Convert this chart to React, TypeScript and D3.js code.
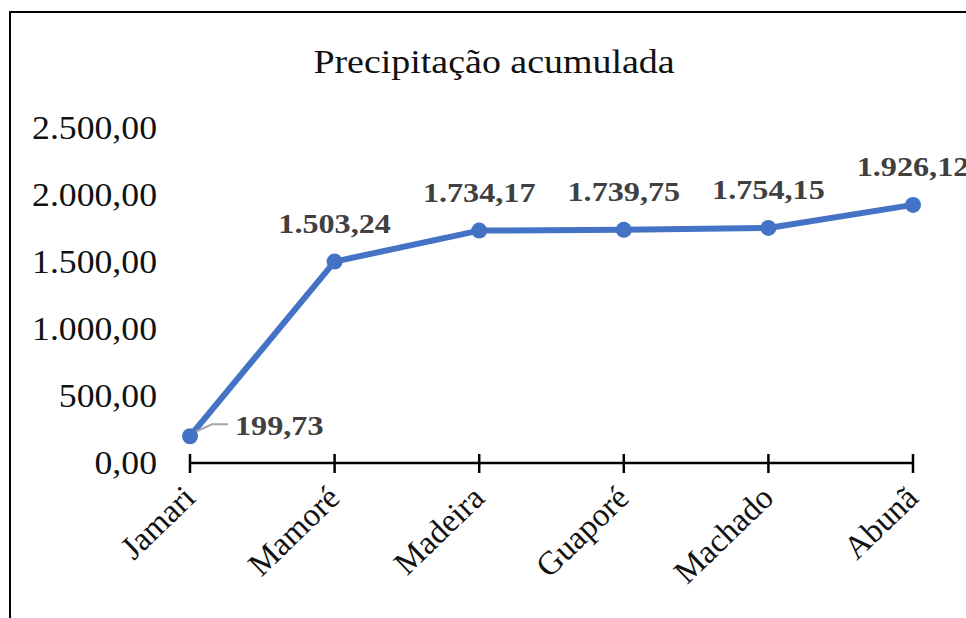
import React, { useEffect, useRef } from 'react';
import * as d3 from 'd3';

const categories = ['Jamari', 'Mamoré', 'Madeira', 'Guaporé', 'Machado', 'Abunã'];
const values = [199.73, 1503.24, 1734.17, 1739.75, 1754.15, 1926.12];
const yTicks = [0, 500, 1000, 1500, 2000, 2500];

const fmt = (v: number) => {
  const [int, dec] = v.toFixed(2).split('.');
  return int.replace(/\B(?=(\d{3})+(?!\d))/g, '.') + ',' + dec;
};

// the source image is a bit stretched sideways
const SX = 1.15;

const App = () => {
  const ref = useRef<SVGSVGElement>(null);

  useEffect(() => {
    const svg = d3.select(ref.current);
    svg.selectAll('*').remove();

    const font = '"Liberation Serif", "Times New Roman", serif';

    // chart frame
    svg.append('rect')
      .attr('x', 10).attr('y', 12)
      .attr('width', 1000).attr('height', 700)
      .attr('fill', '#fff')
      .attr('stroke', '#000').attr('stroke-width', 2);

    svg.append('text')
      .attr('transform', `translate(494,73) scale(${SX},1)`)
      .attr('text-anchor', 'middle')
      .attr('font-family', font).attr('font-size', 33)
      .attr('fill', '#111')
      .text('Precipitação acumulada');

    const x = d3.scalePoint<string>().domain(categories).range([190, 913]);
    const y = d3.scaleLinear().domain([0, 2500]).range([463, 128]);

    // y labels (no axis line)
    svg.append('g').selectAll('text')
      .data(yTicks)
      .join('text')
      .attr('transform', d => `translate(157,${y(d) + 11}) scale(1.05,1)`)
      .attr('text-anchor', 'end')
      .attr('font-family', font).attr('font-size', 34)
      .attr('fill', '#111')
      .text(d => fmt(d));

    // x axis
    const xAxis = svg.append('g');
    xAxis.append('line')
      .attr('x1', x(categories[0])!).attr('x2', x(categories[categories.length - 1])!)
      .attr('y1', y(0)).attr('y2', y(0))
      .attr('stroke', '#000').attr('stroke-width', 2.5);
    xAxis.selectAll('line.tick')
      .data(categories)
      .join('line')
      .attr('class', 'tick')
      .attr('x1', d => x(d)!).attr('x2', d => x(d)!)
      .attr('y1', y(0) - 9).attr('y2', y(0) + 10)
      .attr('stroke', '#000').attr('stroke-width', 2.5);
    xAxis.selectAll('text')
      .data(categories)
      .join('text')
      .attr('transform', d => `translate(${x(d)! + 7},${y(0) + 37}) rotate(-44)`)
      .attr('text-anchor', 'end')
      .attr('font-family', font).attr('font-size', 33)
      .attr('fill', '#111')
      .text(d => d);

    // line
    const line = d3.line<number>()
      .x((_, i) => x(categories[i])!)
      .y(d => y(d));
    svg.append('path')
      .datum(values)
      .attr('d', line)
      .attr('fill', 'none')
      .attr('stroke', '#4472C4')
      .attr('stroke-width', 6)
      .attr('stroke-linejoin', 'round');

    // leader line for first label
    const p0x = x(categories[0])!;
    const p0y = y(values[0]);
    svg.append('path')
      .attr('d', `M${p0x},${p0y - 2} L${p0x + 22},${p0y - 12} L${p0x + 38},${p0y - 12}`)
      .attr('fill', 'none')
      .attr('stroke', '#a6a6a6').attr('stroke-width', 2);

    svg.append('g').selectAll('circle')
      .data(values)
      .join('circle')
      .attr('cx', (_, i) => x(categories[i])!)
      .attr('cy', d => y(d))
      .attr('r', 8)
      .attr('fill', '#4472C4');

    // data labels
    svg.append('g').selectAll('text')
      .data(values)
      .join('text')
      .attr('transform', (d, i) => i === 0
        ? `translate(${x(categories[i])! + 45},${y(d) - 1}) scale(${SX},1)`
        : `translate(${x(categories[i])!},${y(d) - 29}) scale(${SX},1)`)
      .attr('text-anchor', (_, i) => i === 0 ? 'start' : 'middle')
      .attr('font-family', font).attr('font-size', 28).attr('font-weight', 'bold')
      .attr('fill', '#404040')
      .text(d => fmt(d));
  }, []);

  return (
    <svg ref={ref} width={966} height={618}
      style={{ position: 'absolute', left: 0, top: 0, background: '#fff' }} />
  );
};

export default App;
